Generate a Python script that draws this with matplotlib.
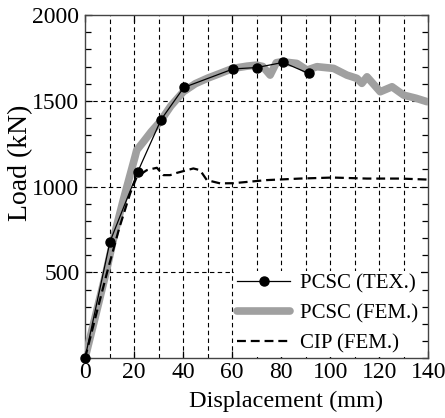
import numpy as np
import matplotlib
matplotlib.use("Agg")
import matplotlib.pyplot as plt
from matplotlib.ticker import MultipleLocator, FixedLocator

plt.rcParams['font.family'] = ['Liberation Serif', 'DejaVu Serif']
plt.rcParams['font.size'] = 17

# test points
tex_x = [0, 10.2, 21.5, 31, 40.3, 60.4, 70, 80.8, 91.2]
tex_y = [0, 680, 1086, 1390, 1578, 1686, 1694, 1724, 1660]

# FE model of the precast column
fem_x = [0, 4, 8.6, 12, 15.6, 20.4, 21.1, 23.8, 27, 30.6, 35, 40.1, 45, 50,
         55.1, 60.3, 66, 70, 72.5, 75.5, 78, 80.3, 86.4, 90.5, 94.6, 101.4,
         106.8, 110.9, 112.9, 115, 120.4, 125.2, 130, 135, 139.5]
fem_y = [0, 230, 500, 720, 921, 1174, 1213, 1261, 1320, 1378, 1470, 1553,
         1600, 1632, 1660, 1689, 1702, 1708, 1700, 1650, 1722, 1728, 1718,
         1679, 1699, 1689, 1650, 1631, 1602, 1640, 1553, 1582, 1533, 1515, 1495]

# FE model of the cast-in-place column
cip_x = [0, 5, 9, 14, 18.4, 21.1, 25.2, 29.3, 32, 34.7, 37.4, 44.2, 46.9,
         49.7, 55.1, 60.5, 74, 87.6, 101, 115, 128.8, 140]
cip_y = [0, 280, 500, 760, 960, 1057, 1096, 1110, 1067, 1067, 1080, 1106,
         1096, 1038, 1019, 1020, 1038, 1047, 1053, 1047, 1047, 1041]

fig = plt.figure(figsize=(4.45, 4.18), dpi=100)
ax = fig.add_axes([0.191, 0.143, 0.7715, 0.821])

ax.plot(tex_x, tex_y, '-', color='black', lw=0.9, marker='o', ms=6.5,
        label='PCSC (TEX.)', zorder=4, clip_on=False)
ax.plot(fem_x, fem_y, '-', color='#a0a0a0', lw=5.5, solid_capstyle='round',
        label='PCSC (FEM.)', zorder=3)
ax.plot(cip_x, cip_y, '--', color='black', lw=1.6, dashes=(4, 2.2),
        label='CIP (FEM.)', zorder=3)

ax.set_xlim(0, 140)
ax.set_ylim(0, 2000)
ax.xaxis.set_major_locator(MultipleLocator(20))
ax.yaxis.set_major_locator(FixedLocator([500, 1000, 1500, 2000]))
ax.yaxis.set_minor_locator(MultipleLocator(100))
ax.tick_params(which='both', direction='in', top=True, right=True)
ax.tick_params(which='major', length=5, width=0.9)
ax.tick_params(which='minor', length=4, width=0.9)
ax.tick_params(axis='x', pad=3)
ax.tick_params(axis='y', pad=4)

for v in range(10, 140, 10):
    ax.axvline(v, color='black', lw=0.8, ls=(0, (4, 3)), zorder=1)
for v in [500, 1000, 1500]:
    ax.axhline(v, color='black', lw=0.8, ls=(0, (4, 3)), zorder=1)

for s in ax.spines.values():
    s.set_linewidth(1.0)
    s.set_color('#444444')

ax.set_xlabel('Displacement (mm)', fontsize=17.5)
ax.set_ylabel('Load (kN)', fontsize=20)
ax.xaxis.set_label_coords(0.585, -0.095)
ax.yaxis.set_label_coords(-0.152, 0.569)

leg = ax.legend(loc='lower right', bbox_to_anchor=(0.979, 0.005),
                borderaxespad=0, frameon=True, fancybox=False,
                edgecolor='none', facecolor='white', framealpha=1,
                handlelength=2.55, handletextpad=0.45, labelspacing=0.5,
                borderpad=0.15, fontsize=15)
leg.set_zorder(5)

fig.savefig('out.png', dpi=100)
